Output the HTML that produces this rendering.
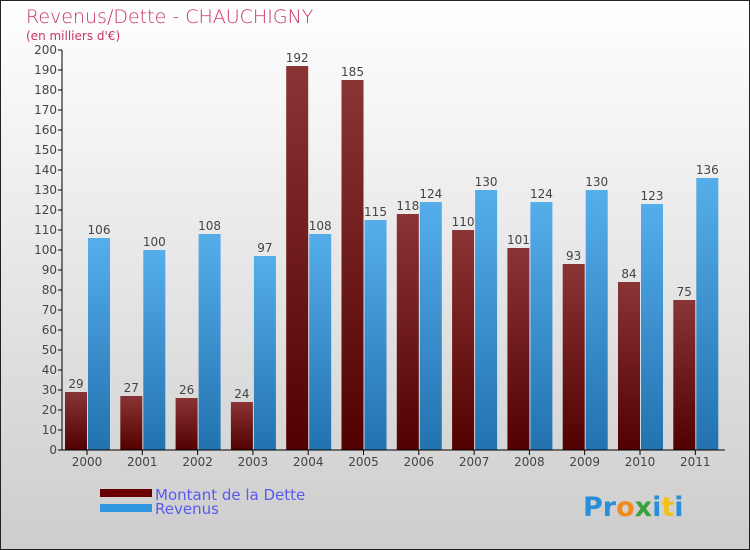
<!DOCTYPE html>
<html><head><meta charset="utf-8"><style>
body{margin:0;width:750px;height:550px;overflow:hidden}
svg{display:block;font-family:"DejaVu Sans","Liberation Sans",sans-serif}
</style></head><body>
<svg width="750" height="550" viewBox="0 0 750 550" xmlns="http://www.w3.org/2000/svg">
<defs>
<linearGradient id="bg" x1="0" y1="0" x2="0" y2="1"><stop offset="0" stop-color="#ffffff"/><stop offset="1" stop-color="#cdcdcd"/></linearGradient>
<linearGradient id="gd" x1="0" y1="0" x2="0" y2="1"><stop offset="0" stop-color="#8a3535"/><stop offset="1" stop-color="#520000"/></linearGradient>
<linearGradient id="gr" x1="0" y1="0" x2="0" y2="1"><stop offset="0" stop-color="#55aeea"/><stop offset="1" stop-color="#2272b0"/></linearGradient>
</defs>
<rect x="0.5" y="0.5" width="749" height="549" fill="url(#bg)" stroke="#222"/>
<text x="26" y="23" font-size="19" fill="#c8336a" style="font-weight:200">Revenus/Dette - CHAUCHIGNY</text>
<text x="26" y="40" font-size="12" fill="#c8336a">(en milliers d'€)</text>
<g id="plot"></g>
<rect x="100" y="489" width="52" height="8" fill="#6a0000"/>
<text x="155" y="500" font-size="15" fill="#5a5af0">Montant de la Dette</text>
<rect x="100" y="504" width="52" height="8" fill="#2f96e0"/>
<text x="155" y="514" font-size="15" fill="#5a5af0">Revenus</text>
<text x="583" y="516" font-size="27" font-weight="bold"><tspan fill="#2a8fd8">Pr</tspan><tspan fill="#f08a1c">o</tspan><tspan fill="#3aa03a">x</tspan><tspan fill="#2a8fd8">i</tspan><tspan fill="#f0c01c">t</tspan><tspan fill="#2a8fd8">i</tspan></text>
</svg>
<script>
const years=["2000","2001","2002","2003","2004","2005","2006","2007","2008","2009","2010","2011"];
const dette=[29,27,26,24,192,185,118,110,101,93,84,75];
const revenus=[106,100,108,97,108,115,124,130,124,130,123,136];
const yTicks=[0,10,20,30,40,50,60,70,80,90,100,110,120,130,140,150,160,170,180,190,200];
const NS="http://www.w3.org/2000/svg";
const g=document.getElementById('plot');
const y=v=>450-v*2;
const xc=i=>87+i*55.3;
function mk(t,a,p){const e=document.createElementNS(NS,t);for(const k in a)e.setAttribute(k,a[k]);(p||g).appendChild(e);return e;}
years.forEach((yr,i)=>{
 const c=xc(i);
 let r=mk('rect',{x:c-22,y:y(dette[i]),width:22,height:dette[i]*2,fill:'url(#gd)'});
 
 
 let t=mk('text',{x:c-11,y:y(dette[i])-4,'font-size':12,fill:'#444','text-anchor':'middle'});t.textContent=dette[i];
 
 
 r=mk('rect',{x:c+1,y:y(revenus[i]),width:22,height:revenus[i]*2,fill:'url(#gr)'});
 
 
 t=mk('text',{x:c+12,y:y(revenus[i])-4,'font-size':12,fill:'#444','text-anchor':'middle'});t.textContent=revenus[i];
 
 
 mk('line',{x1:c,x2:c,y1:450,y2:455,stroke:'#000'});
 t=mk('text',{x:c,y:466,'font-size':12,fill:'#444','text-anchor':'middle'});t.textContent=yr;
 
 
});
yTicks.forEach(v=>{
 mk('line',{x1:58,x2:62,y1:y(v),y2:y(v),stroke:'#000'});
 const t=mk('text',{x:57,y:y(v)+4,'font-size':12,fill:'#444','text-anchor':'end'});t.textContent=v;
 
 
});
let a=mk('line',{x1:62,x2:62,y1:50,y2:450,stroke:'#000'});


a=mk('line',{x1:62,x2:725,y1:450,y2:450,stroke:'#000'});


</script>
</body></html>
